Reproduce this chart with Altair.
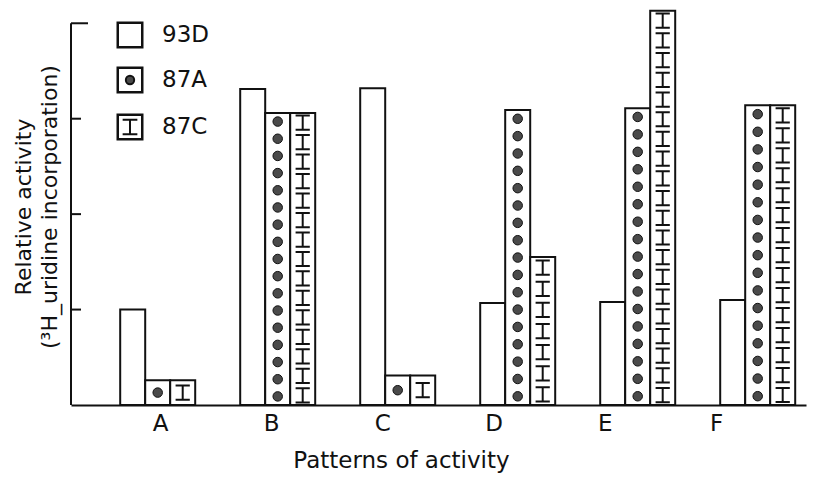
import altair as alt
import pandas as pd

# ---- data ----
groups = ["A", "B", "C", "D", "E", "F"]
series = ["93D", "87A", "87C"]
v_93D = [1.00, 3.31, 3.32, 1.07, 1.08, 1.10]
v_87A = [0.26, 3.06, 0.31, 3.09, 3.11, 3.14]
v_87C = [0.26, 3.06, 0.31, 1.55, 4.13, 3.14]
y_ticks = [1, 2, 3]
y_top = [4]
axis_span = [0, 4]

INK = "#111111"
FONT = "DejaVu Sans"

rows = []
for s, vals in zip(series, [v_93D, v_87A, v_87C]):
    for g, v in zip(groups, vals):
        rows.append({"group": g, "series": s, "value": v})
bars_df = pd.DataFrame(rows)
labels_df = pd.DataFrame({"group": groups})


def pattern(vals, step, s):
    out = []
    for g, v in zip(groups, vals):
        n = max(1, int(v / step))
        for k in range(n):
            out.append({"group": g, "series": s, "value": (k + 0.5) * v / n})
    return pd.DataFrame(out)


dots_df = pattern(v_87A, 0.18, "87A")
ibeam_df = pattern(v_87C, 0.20, "87C")

IBEAM = "M-0.85,-0.85L0.85,-0.85M0,-0.85L0,0.85M-0.85,0.85L0.85,0.85"

x_scale = alt.Scale(domain=groups, paddingInner=0.375, paddingOuter=0.25, align=0.82)
x_axis = alt.Axis(
    title="Patterns of activity", ticks=False, labels=False,
    domainColor=INK, domainWidth=2,
    titleFont=FONT, titleFontSize=23, titleColor=INK, titleFontWeight="normal",
    titlePadding=44, titleX=330, titleAlign="center",
)
x_bar = alt.X("group:N", scale=x_scale, axis=x_axis)
x_plain = alt.X("group:N", scale=x_scale, axis=None)
xo_enc = alt.XOffset("series:N", scale=alt.Scale(domain=series, paddingInner=0, paddingOuter=0))
y_scale = alt.Scale(domain=[0, 4.16], nice=False, zero=True)
y_axis = alt.Axis(
    title=["Relative activity", "(³H_uridine incorporation)"],
    labels=False, ticks=False, domain=False, grid=False,
    titleFont=FONT, titleFontSize=22, titleFontWeight="normal", titleColor=INK,
    titlePadding=10, titleLineHeight=26,
)


def yq(field):
    return alt.Y(field, type="quantitative", scale=y_scale, axis=y_axis)


bars = alt.Chart(bars_df).mark_bar(fill="white", stroke=INK, strokeWidth=2).encode(
    x=x_bar, xOffset=xo_enc, y=yq("value")
)
dots = alt.Chart(dots_df).mark_point(
    shape="circle", filled=True, fill="#4a4a4a", stroke=INK, strokeWidth=1, size=90, opacity=1
).encode(x=x_plain, xOffset=xo_enc, y=yq("value"))
ibeams = alt.Chart(ibeam_df).mark_point(
    shape=IBEAM, filled=False, stroke=INK, strokeWidth=2, size=280, opacity=1
).encode(x=x_plain, xOffset=xo_enc, y=yq("value"))

# category labels (set slightly left of the bar groups, as in the original)
cat_labels = alt.Chart(labels_df).mark_text(
    font=FONT, fontSize=23, color=INK, baseline="middle", align="center"
).encode(
    x=alt.X("group:N", scale=alt.Scale(type="point", domain=groups, padding=0.805), axis=None),
    y=alt.value(416),
    text="group:N",
)

axis_line = alt.Chart(pd.DataFrame({"y0": [axis_span[0]], "y1": [axis_span[1]]})).mark_rule(
    color=INK, strokeWidth=2
).encode(x=alt.value(0), y=yq("y0"), y2="y1")
ticks = alt.Chart(pd.DataFrame({"t": y_ticks})).mark_rule(color=INK, strokeWidth=2).encode(
    x=alt.value(0), x2=alt.value(10), y=yq("t")
)
top_tick = alt.Chart(pd.DataFrame({"t": y_top})).mark_rule(color=INK, strokeWidth=2).encode(
    x=alt.value(0), x2=alt.value(17), y=yq("t")
)

# ---- manual legend (patterned swatches) ----
leg_y = [27, 72, 119]
legend_layers = []
for s, ly in zip(series, leg_y):
    one = pd.DataFrame({"series": [s]})
    legend_layers.append(
        alt.Chart(one).mark_square(size=600, fill="white", stroke=INK, strokeWidth=2.5, opacity=1)
        .encode(x=alt.value(59), y=alt.value(ly))
    )
    if s == "87A":
        legend_layers.append(
            alt.Chart(one).mark_point(shape="circle", filled=True, fill="#4a4a4a", stroke=INK,
                                      size=70, opacity=1)
            .encode(x=alt.value(59), y=alt.value(ly))
        )
    if s == "87C":
        legend_layers.append(
            alt.Chart(one).mark_point(shape=IBEAM, filled=False, stroke=INK, strokeWidth=2,
                                      size=300, opacity=1)
            .encode(x=alt.value(59), y=alt.value(ly))
        )
    legend_layers.append(
        alt.Chart(one).mark_text(align="left", baseline="middle", font=FONT, fontSize=23, color=INK)
        .encode(x=alt.value(91), y=alt.value(ly), text="series:N")
    )

chart = alt.layer(
    bars, dots, ibeams, cat_labels, axis_line, ticks, top_tick, *legend_layers
).resolve_scale(x="independent").properties(
    width=735, height=397,
    autosize=alt.AutoSizeParams(type="none"),
    padding={"left": 63, "top": 0, "right": 2, "bottom": 68},
    background="white",
).configure_view(stroke=None)

chart.save("out.html", embed_options={"renderer": "svg", "actions": False})
